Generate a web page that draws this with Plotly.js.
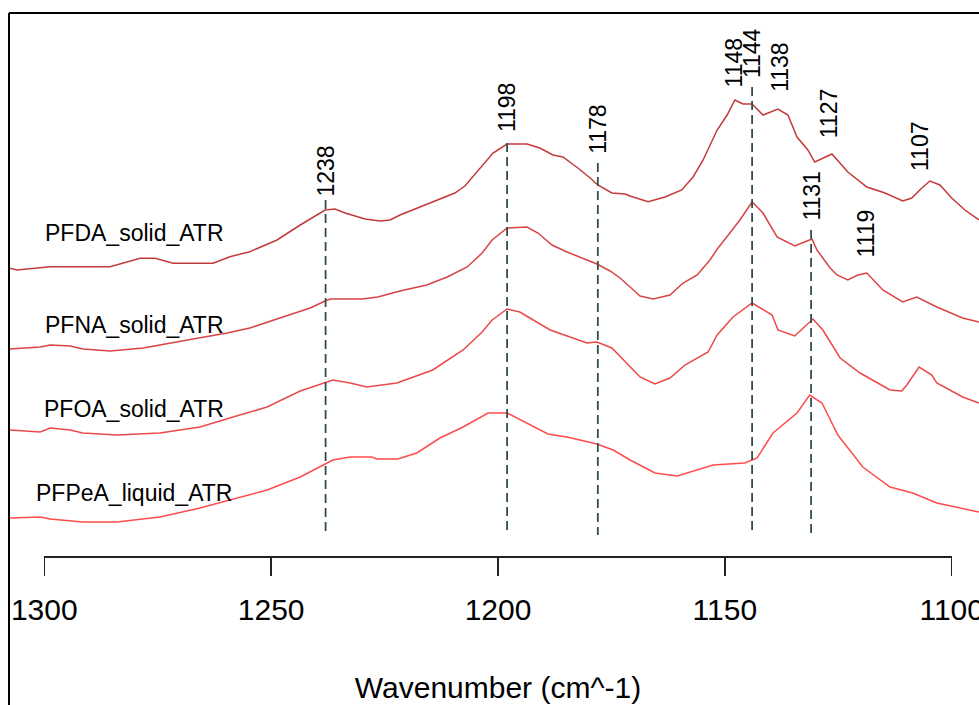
<!DOCTYPE html>
<html>
<head>
<meta charset="utf-8">
<script src="https://cdn.plot.ly/plotly-3.0.1.min.js"></script>
<style>html,body{margin:0;padding:0;background:#fff;}#chart{width:979px;height:705px;}</style>
</head>
<body>
<div id="chart"></div>
<script>
// Wavenumber (cm^-1) and offset absorbance
const pfdaX = [1307.6,1306.0,1298.7,1285.5,1278.9,1275.6,1271.6,1262.8,1259.1,1254.7,1248.7,1243.6,1238.1,1235.9,1233.7,1229.3,1226.0,1223.8,1221.6,1215.0,1209.5,1207.3,1202.9,1201.1,1198.0,1193.6,1190.8,1187.9,1185.7,1182.4,1179.7,1178.0,1174.9,1172.0,1170.9,1166.9,1163.2,1159.5,1157.0,1154.8,1151.7,1149.5,1147.8,1146.0,1144.0,1141.6,1138.3,1136.1,1134.1,1131.7,1130.2,1126.4,1122.9,1118.7,1114.7,1110.8,1108.8,1106.6,1104.8,1102.6,1100.0,1097.1,1094.0];
const pfdaY = [2.877,2.86,2.893,2.893,2.977,2.977,2.927,2.927,2.993,3.043,3.16,3.31,3.46,3.47,3.43,3.37,3.35,3.36,3.41,3.53,3.63,3.70,3.93,4.03,4.12,4.12,4.08,4.01,3.99,3.88,3.78,3.71,3.63,3.62,3.60,3.543,3.59,3.66,3.79,3.96,4.26,4.41,4.56,4.52,4.52,4.41,4.47,4.41,4.19,4.06,3.94,4.02,3.84,3.69,3.63,3.55,3.58,3.68,3.75,3.71,3.58,3.46,3.36];

const pfnaX = [1307.6,1300.9,1298.7,1294.3,1291.5,1285.5,1278.2,1271.6,1267.2,1259.7,1254.7,1247.4,1241.4,1238.1,1237.0,1230.0,1226.5,1221.6,1215.7,1211.2,1206.8,1203.5,1201.3,1198.0,1193.6,1191.2,1188.1,1184.8,1178.2,1175.3,1173.1,1170.9,1168.7,1165.8,1162.1,1159.2,1156.1,1153.3,1151.5,1148.9,1146.7,1144.0,1141.6,1138.5,1134.6,1131.9,1130.8,1129.7,1126.8,1125.3,1122.9,1120.7,1118.7,1115.2,1110.8,1107.7,1103.3,1097.6,1094.0];
const pfnaY = [2.07,2.09,2.11,2.10,2.07,2.05,2.08,2.13,2.17,2.23,2.28,2.39,2.48,2.55,2.57,2.57,2.59,2.65,2.71,2.79,2.89,3.03,3.16,3.28,3.29,3.23,3.11,3.04,2.92,2.85,2.78,2.69,2.60,2.57,2.61,2.73,2.81,2.96,3.08,3.23,3.36,3.54,3.43,3.19,3.10,3.15,3.17,3.06,2.88,2.81,2.76,2.81,2.83,2.66,2.54,2.59,2.49,2.38,2.34];

const pfoaX = [1307.6,1300.9,1298.7,1294.3,1291.5,1284.0,1274.5,1265.7,1258.4,1250.9,1243.6,1238.1,1236.4,1232.6,1228.9,1222.3,1219.4,1214.4,1207.7,1203.5,1201.3,1198.0,1195.2,1192.3,1188.5,1180.4,1178.2,1174.9,1170.9,1168.7,1165.4,1162.1,1158.8,1153.7,1151.7,1148.2,1144.0,1139.6,1138.3,1134.6,1130.6,1128.4,1124.6,1120.2,1113.6,1111.0,1109.9,1107.2,1104.4,1103.3,1097.6,1094.0];
const pfoaY = [1.26,1.24,1.28,1.26,1.23,1.21,1.23,1.29,1.39,1.49,1.65,1.74,1.76,1.73,1.69,1.73,1.78,1.86,2.06,2.24,2.36,2.47,2.44,2.36,2.26,2.13,2.14,2.08,1.89,1.79,1.72,1.78,1.91,2.04,2.21,2.39,2.53,2.41,2.26,2.20,2.37,2.26,1.98,1.83,1.66,1.65,1.71,1.89,1.81,1.73,1.59,1.53];

const pfpeaX = [1307.6,1300.9,1298.7,1291.5,1284.0,1274.5,1265.7,1258.4,1250.9,1243.6,1238.1,1236.4,1232.6,1227.8,1226.7,1222.1,1217.9,1212.8,1207.7,1202.2,1198.0,1193.6,1189.0,1184.8,1178.2,1174.6,1170.9,1165.4,1160.5,1152.6,1145.6,1142.9,1139.4,1134.1,1131.3,1128.6,1125.1,1119.6,1113.6,1108.6,1103.3,1094.0];
const pfpeaY = [0.38,0.39,0.37,0.34,0.34,0.39,0.48,0.57,0.66,0.79,0.92,0.96,0.99,0.99,0.97,0.97,1.03,1.18,1.29,1.43,1.43,1.33,1.22,1.19,1.12,1.06,0.96,0.83,0.80,0.91,0.93,0.98,1.23,1.43,1.61,1.53,1.21,0.89,0.69,0.63,0.53,0.44];

const seriesNames = ["PFDA_solid_ATR","PFNA_solid_ATR","PFOA_solid_ATR","PFPeA_liquid_ATR"];
const seriesColors = ["#C23A3A","#D84444","#EC4848","#FF4C4C"];
const nameLabelX = 1280.2;
const nameLabelY = [3.23,2.31,1.47,0.63];

// Marked bands (dashed guides)
const guideX = [1238,1198,1178,1144,1131];
const guideTop = [3.56,4.13,3.93,4.69,3.26];
const guideBottom = 0.21;

// Peak labels
const peakLabels = [1238,1198,1178,1148,1144,1138,1127,1107,1131,1119];
const peakLabelY = [3.85,4.48,4.27,4.935,5.03,4.885,4.42,4.10,3.595,3.22];

const tickVals = [1300,1250,1200,1150,1100];

const FONT = "Liberation Sans, Arial, Helvetica, sans-serif";

const xs = [pfdaX,pfnaX,pfoaX,pfpeaX];
const ys = [pfdaY,pfnaY,pfoaY,pfpeaY];
const traces = xs.map((x,i)=>({
  x:x, y:ys[i], type:"scatter", mode:"lines", name:seriesNames[i],
  line:{color:seriesColors[i], width:1.5}, hoverinfo:"skip", showlegend:false, cliponaxis:false
}));

const gx=[], gy=[];
guideX.forEach((v,i)=>{ gx.push(v,v,null); gy.push(guideTop[i],guideBottom,null); });
traces.push({x:gx, y:gy, type:"scatter", mode:"lines",
  line:{color:"#2F4F4F", width:1.8, dash:"9px,5px"}, hoverinfo:"skip", showlegend:false});
// invisible trace so the tick axis is laid out
traces.push({x:tickVals, y:tickVals.map(()=>0), xaxis:"x2", yaxis:"y", type:"scatter", mode:"markers",
  marker:{opacity:0}, hoverinfo:"skip", showlegend:false});

const annotations = [];
seriesNames.forEach((n,i)=>annotations.push({x:nameLabelX, y:nameLabelY[i], xref:"x", yref:"y",
  text:n, showarrow:false, xanchor:"center", yanchor:"middle", font:{family:FONT,size:23,color:"#000"}}));
peakLabels.forEach((p,i)=>annotations.push({x:p, y:peakLabelY[i], xref:"x", yref:"y",
  text:String(p), showarrow:false, textangle:-90, xanchor:"center", yanchor:"middle",
  font:{family:FONT,size:23,color:"#000"}}));

const W=979,H=705,ml=10,mr=0,mt=13,mb=149;
const pw=W-ml-mr, ph=H-mt-mb;
const layout = {
  width:W, height:H, margin:{l:ml,r:mr,t:mt,b:mb,pad:0},
  paper_bgcolor:"#fff", plot_bgcolor:"rgba(0,0,0,0)", showlegend:false,
  xaxis:{range:[1307.56,1093.99], visible:false, fixedrange:true, domain:[0,1]},
  xaxis2:{range:[1300,1100], anchor:"free", position:0,
    domain:[(44.3-ml)/pw,(951.7-ml)/pw], side:"bottom",
    showline:true, linecolor:"#222", linewidth:1.5, showgrid:false, zeroline:false,
    ticks:"outside", ticklen:18, tickwidth:1.5, tickcolor:"#222", ticklabelstandoff:8,
    ticklabeloverflow:"allow",
    tickmode:"array", tickvals:tickVals, ticktext:tickVals.map(String),
    tickfont:{family:FONT,size:30,color:"#000"},
    title:{text:"Wavenumber (cm^-1)", font:{family:FONT,size:30,color:"#000"}, standoff:52}},
  yaxis:{range:[0,ph/100], visible:false, fixedrange:true},
  annotations:annotations,
  shapes:[
    {type:"line", xref:"paper", yref:"paper", x0:-1/pw, x1:1.01, y0:1, y1:1, line:{color:"#000",width:2}},
    {type:"line", xref:"paper", yref:"paper", x0:-1/pw, x1:-1/pw, y0:1, y1:-(mb+5)/ph, line:{color:"#000",width:2}}
  ]
};
Plotly.newPlot("chart", traces, layout, {displayModeBar:false, staticPlot:true});
</script>
</body>
</html>
